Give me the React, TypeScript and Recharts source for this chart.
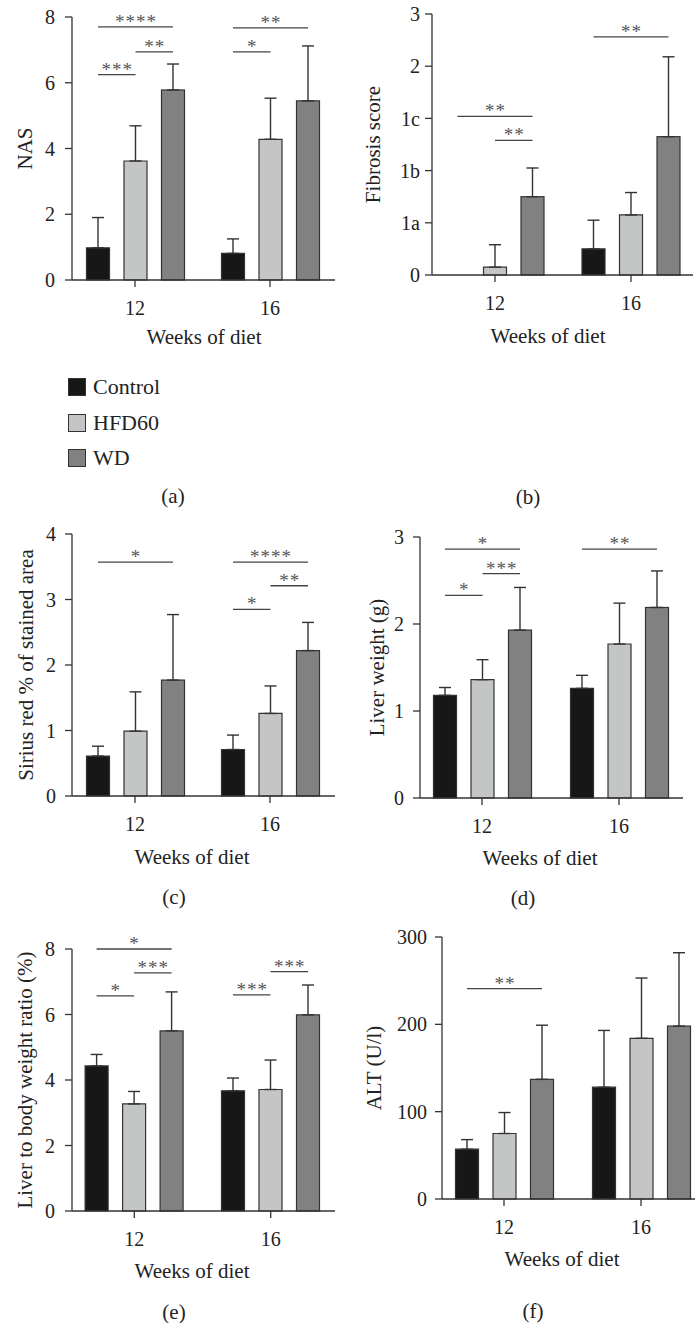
import React from "react";
import { BarChart, Bar, XAxis, YAxis, ErrorBar, Legend, Label } from "recharts";

// ---- data (means and SD) ----
const weeks = ["12", "16"];
const seriesNames = ["Control", "HFD60", "WD"];

// (a) NAS
const nasControl = [0.98, 0.81];
const nasControlSd = [0.92, 0.44];
const nasHfd = [3.62, 4.28];
const nasHfdSd = [1.07, 1.25];
const nasWd = [5.78, 5.45];
const nasWdSd = [0.79, 1.67];

// (b) Fibrosis score (plotted on an even 0..5 scale, labelled 0,1a,1b,1c,2,3)
const fibTickLabels = ["0", "1a", "1b", "1c", "2", "3"];
const fibControl = [0, 0.5];
const fibControlSd = [0, 0.55];
const fibHfd = [0.15, 1.15];
const fibHfdSd = [0.43, 0.43];
const fibWd = [1.5, 2.65];
const fibWdSd = [0.55, 1.53];

// (c) Sirius red % of stained area
const srControl = [0.61, 0.71];
const srControlSd = [0.15, 0.22];
const srHfd = [0.99, 1.26];
const srHfdSd = [0.6, 0.42];
const srWd = [1.77, 2.22];
const srWdSd = [1.0, 0.43];

// (d) Liver weight (g)
const lwControl = [1.18, 1.26];
const lwControlSd = [0.09, 0.15];
const lwHfd = [1.36, 1.77];
const lwHfdSd = [0.23, 0.47];
const lwWd = [1.93, 2.19];
const lwWdSd = [0.49, 0.42];

// (e) Liver to body weight ratio (%)
const lbControl = [4.43, 3.67];
const lbControlSd = [0.35, 0.39];
const lbHfd = [3.27, 3.71];
const lbHfdSd = [0.38, 0.9];
const lbWd = [5.5, 5.99];
const lbWdSd = [1.19, 0.91];

// (f) ALT (U/l)
const altControl = [57, 128];
const altControlSd = [11, 65];
const altHfd = [75, 184];
const altHfdSd = [24, 69];
const altWd = [137, 198];
const altWdSd = [62, 84];

// significance brackets: [week index, from series, to series, level, stars]
type Bracket = [number, number, number, number, string];
const nasBrackets: Bracket[] = [
  [0, 0, 2, 7.7, "****"],
  [0, 1, 2, 6.94, "**"],
  [0, 0, 1, 6.25, "***"],
  [1, 0, 2, 7.67, "**"],
  [1, 0, 1, 6.94, "*"],
];
const fibBrackets: Bracket[] = [
  [0, 0, 2, 3.04, "**"],
  [0, 1, 2, 2.58, "**"],
  [1, 0, 2, 4.56, "**"],
];
const srBrackets: Bracket[] = [
  [0, 0, 2, 3.57, "*"],
  [1, 0, 2, 3.57, "****"],
  [1, 1, 2, 3.21, "**"],
  [1, 0, 1, 2.85, "*"],
];
const lwBrackets: Bracket[] = [
  [0, 0, 2, 2.86, "*"],
  [0, 1, 2, 2.58, "***"],
  [0, 0, 1, 2.33, "*"],
  [1, 0, 2, 2.86, "**"],
];
const lbBrackets: Bracket[] = [
  [0, 0, 2, 8.0, "*"],
  [0, 1, 2, 7.27, "***"],
  [0, 0, 1, 6.57, "*"],
  [1, 1, 2, 7.31, "***"],
  [1, 0, 1, 6.6, "***"],
];
const altBrackets: Bracket[] = [[0, 0, 2, 241, "**"]];

// ---- styling ----
const COLORS = { control: "#171717", hfd: "#c4c6c5", wd: "#818181" };
const EDGE = "#333333";
const TEXT = "#222222";
const FONT = "'Liberation Serif', 'Times New Roman', serif";
const BAR_SIZE = 23;
const BAR_GAP = 14.5;
const TITLE_SIZE = 21;

function buildRows(
  c: number[], cSd: number[], h: number[], hSd: number[], w: number[], wSd: number[]
) {
  return weeks.map((week, i) => ({
    week,
    control: c[i],
    controlErr: [0, cSd[i]],
    hfd: h[i],
    hfdErr: [0, hSd[i]],
    wd: w[i],
    wdErr: [0, wSd[i]],
  }));
}

// WD bar shape; also draws the brackets of its week group using the bar's own scale
const wdShape = (brackets: Bracket[]) => (props: any) => {
  const { x, y, width, height, index, payload } = props;
  const base = y + height;
  const unit = payload.wd ? height / payload.wd : 0;
  const pitch = width + BAR_GAP;
  const cxWd = x + width / 2;
  const centerOf = (s: number) => cxWd - (2 - s) * pitch;
  return (
    <g>
      <rect x={x} y={y} width={width} height={height} fill={COLORS.wd} stroke={EDGE} strokeWidth={1.2} />
      {brackets
        .filter((b) => b[0] === index)
        .map(([, from, to, level, stars], k) => {
          const ly = base - level * unit;
          const x1 = centerOf(from);
          const x2 = centerOf(to);
          return (
            <g key={k}>
              <line x1={x1} x2={x2} y1={ly} y2={ly} stroke="#444" strokeWidth={1.3} />
              <text x={(x1 + x2) / 2 + 0.5} y={ly + 1} textAnchor="middle" fontSize={19} fill="#555" letterSpacing={1}>
                {stars}
              </text>
            </g>
          );
        })}
    </g>
  );
};

const LegendBox = (props: any) => {
  const { payload = [] } = props;
  return (
    <div style={{ fontFamily: FONT }}>
      {payload.map((item: any) => (
        <div key={item.value} style={{ display: "flex", alignItems: "center", height: 18, marginBottom: 17.5 }}>
          <div
            style={{
              width: 18,
              height: 18,
              boxSizing: "border-box",
              background: item.color,
              border: `1.3px solid ${EDGE}`,
            }}
          />
          <span style={{ marginLeft: 7, fontSize: 22, color: TEXT, lineHeight: "18px" }}>{item.value}</span>
        </div>
      ))}
    </div>
  );
};

interface PanelProps {
  rows: ReturnType<typeof buildRows>;
  brackets: Bracket[];
  yMax: number;
  yTicks: number[];
  yFormat?: (v: number) => string;
  yTitle: string;
  yTitleX: number;
  xTitleX: number;
  xTitleDy: number;
  left: number;
  top: number;
  width: number;
  height: number;
  marginTop: number;
  marginRight: number;
  yAxisWidth: number;
  xAxisHeight: number;
  xPad: [number, number];
  yTickMargin?: number;
  legend?: boolean;
}

const Panel: React.FC<PanelProps> = (p) => {
  const axisStroke = { stroke: EDGE, strokeWidth: 1.3 };
  return (
    <div style={{ position: "absolute", left: p.left, top: p.top }}>
      <BarChart
        width={p.width}
        height={p.height}
        data={p.rows}
        barSize={BAR_SIZE}
        barGap={BAR_GAP}
        margin={{ top: p.marginTop, right: p.marginRight, left: 0, bottom: 0 }}
      >
        <XAxis
          dataKey="week"
          height={p.xAxisHeight}
          padding={{ left: p.xPad[0], right: p.xPad[1] }}
          axisLine={axisStroke}
          tickLine={axisStroke}
          tickSize={7}
          tickMargin={14}
          tick={{ fontSize: 20, fill: TEXT }}
          interval={0}
        >
          <Label
            content={(lp: any) => {
              const vb = lp.viewBox || {};
              return (
                <text x={p.xTitleX} y={vb.y + p.xTitleDy} textAnchor="middle" dominantBaseline="central" fontSize={TITLE_SIZE} fill={TEXT}>
                  Weeks of diet
                </text>
              );
            }}
          />
        </XAxis>
        <YAxis
          type="number"
          width={p.yAxisWidth}
          domain={[0, p.yMax]}
          ticks={p.yTicks}
          interval={0}
          tickFormatter={p.yFormat}
          axisLine={axisStroke}
          tickLine={axisStroke}
          tickSize={7}
          tickMargin={p.yTickMargin ?? 9}
          tick={{ fontSize: 20, fill: TEXT }}
        >
          <Label
            content={(lp: any) => {
              const vb = lp.viewBox || {};
              const cy = vb.y + vb.height / 2;
              return (
                <text
                  x={p.yTitleX}
                  y={cy}
                  transform={`rotate(-90 ${p.yTitleX} ${cy})`}
                  textAnchor="middle"
                  dominantBaseline="central"
                  fontSize={TITLE_SIZE}
                  fill={TEXT}
                >
                  {p.yTitle}
                </text>
              );
            }}
          />
        </YAxis>
        {p.legend && (
          <Legend
            layout="vertical"
            align="center"
            verticalAlign="middle"
            wrapperStyle={{ top: 378, left: 68, width: 160, height: 100 }}
            content={<LegendBox />}
          />
        )}
        <Bar dataKey="control" name={seriesNames[0]} fill={COLORS.control} stroke={EDGE} strokeWidth={1.2} isAnimationActive={false}>
          <ErrorBar dataKey="controlErr" direction="y" width={6} stroke={EDGE} strokeWidth={1.4} isAnimationActive={false} />
        </Bar>
        <Bar dataKey="hfd" name={seriesNames[1]} fill={COLORS.hfd} stroke={EDGE} strokeWidth={1.2} isAnimationActive={false}>
          <ErrorBar dataKey="hfdErr" direction="y" width={6} stroke={EDGE} strokeWidth={1.4} isAnimationActive={false} />
        </Bar>
        <Bar
          dataKey="wd"
          name={seriesNames[2]}
          fill={COLORS.wd}
          stroke={EDGE}
          strokeWidth={1.2}
          shape={wdShape(p.brackets)}
          isAnimationActive={false}
        >
          <ErrorBar dataKey="wdErr" direction="y" width={6} stroke={EDGE} strokeWidth={1.4} isAnimationActive={false} />
        </Bar>
      </BarChart>
    </div>
  );
};

const Caption: React.FC<{ x: number; y: number; text: string }> = ({ x, y, text }) => (
  <div
    style={{
      position: "absolute",
      left: x,
      top: y,
      transform: "translate(-50%, -50%)",
      fontSize: 21,
      color: TEXT,
      fontFamily: FONT,
      lineHeight: 1,
    }}
  >
    {text}
  </div>
);

export default function App() {
  return (
    <div style={{ position: "absolute", left: 0, top: 0, width: 695, height: 1323, background: "#fff", fontFamily: FONT }}>
      <Panel
        rows={buildRows(nasControl, nasControlSd, nasHfd, nasHfdSd, nasWd, nasWdSd)}
        brackets={nasBrackets}
        yMax={8}
        yTicks={[0, 2, 4, 6, 8]}
        yTitle="NAS"
        yTitleX={25}
        xTitleX={204}
        xTitleDy={57}
        left={0}
        top={0}
        width={345}
        height={470}
        marginTop={17}
        marginRight={10}
        yAxisWidth={72}
        xAxisHeight={190}
        xPad={[-4.5, -2.5]}
        yTickMargin={10}
        legend
      />
      <Panel
        rows={buildRows(fibControl, fibControlSd, fibHfd, fibHfdSd, fibWd, fibWdSd)}
        brackets={fibBrackets}
        yMax={5}
        yTicks={[0, 1, 2, 3, 4, 5]}
        yFormat={(v) => fibTickLabels[v] ?? String(v)}
        yTitle="Fibrosis score"
        yTitleX={28}
        xTitleX={203}
        xTitleDy={61}
        left={345}
        top={0}
        width={350}
        height={465}
        marginTop={14}
        marginRight={2}
        yAxisWidth={87}
        xAxisHeight={190}
        xPad={[-5, -6]}
        yTickMargin={5}
      />
      <Panel
        rows={buildRows(srControl, srControlSd, srHfd, srHfdSd, srWd, srWdSd)}
        brackets={srBrackets}
        yMax={4}
        yTicks={[0, 1, 2, 3, 4]}
        yTitle="Sirius red % of stained area"
        yTitleX={26}
        xTitleX={192}
        xTitleDy={61}
        left={0}
        top={480}
        width={345}
        height={416}
        marginTop={54}
        marginRight={10}
        yAxisWidth={72}
        xAxisHeight={100}
        xPad={[-4.5, -2.5]}
      />
      <Panel
        rows={buildRows(lwControl, lwControlSd, lwHfd, lwHfdSd, lwWd, lwWdSd)}
        brackets={lwBrackets}
        yMax={3}
        yTicks={[0, 1, 2, 3]}
        yTitle="Liver weight (g)"
        yTitleX={32}
        xTitleX={195}
        xTitleDy={60}
        left={345}
        top={480}
        width={350}
        height={418}
        marginTop={57}
        marginRight={12}
        yAxisWidth={75}
        xAxisHeight={100}
        xPad={[-6.5, -4.5]}
      />
      <Panel
        rows={buildRows(lbControl, lbControlSd, lbHfd, lbHfdSd, lbWd, lbWdSd)}
        brackets={lbBrackets}
        yMax={8}
        yTicks={[0, 2, 4, 6, 8]}
        yTitle="Liver to body weight ratio (%)"
        yTitleX={25}
        xTitleX={192}
        xTitleDy={60}
        left={0}
        top={900}
        width={345}
        height={411}
        marginTop={49}
        marginRight={10}
        yAxisWidth={72}
        xAxisHeight={100}
        xPad={[-5.9, -3.9]}
        yTickMargin={10}
      />
      <Panel
        rows={buildRows(altControl, altControlSd, altHfd, altHfdSd, altWd, altWdSd)}
        brackets={altBrackets}
        yMax={300}
        yTicks={[0, 100, 200, 300]}
        yTitle="ALT (U/l)"
        yTitleX={29}
        xTitleX={217}
        xTitleDy={60}
        left={345}
        top={900}
        width={350}
        height={399}
        marginTop={37}
        marginRight={0}
        yAxisWidth={97}
        xAxisHeight={100}
        xPad={[-6.5, -14.5]}
        yTickMargin={8}
      />
      <Caption x={173} y={496} text="(a)" />
      <Caption x={528} y={497} text="(b)" />
      <Caption x={174} y={897} text="(c)" />
      <Caption x={523} y={898} text="(d)" />
      <Caption x={174} y={1312} text="(e)" />
      <Caption x={533} y={1311} text="(f)" />
    </div>
  );
}
